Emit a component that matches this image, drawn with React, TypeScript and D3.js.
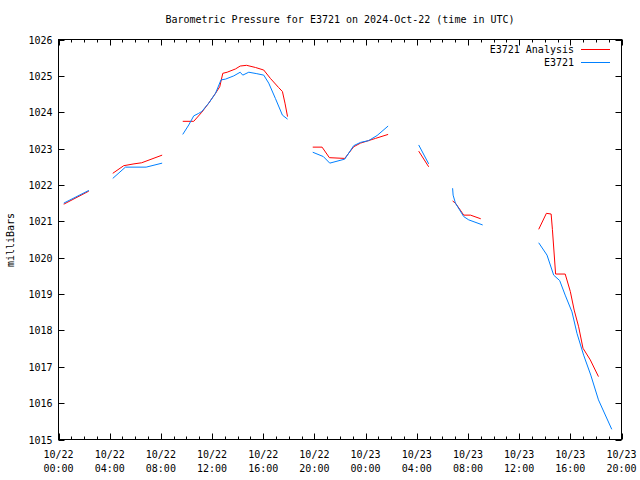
import React from "react";
import * as d3 from "d3";

// Hours since 2024-10-22 00:00 UTC; NaN marks a gap
const analysisHours = [0.41, 2.37, NaN,
  4.24, 5.1, 5.9, 6.5, 8.1, NaN,
  9.71, 10.57, 11.2, 11.74, 12.27, 12.6, 12.84, 13.18, 13.83, 14.2, 14.7, 15.4, 16.04, 16.56, 17.2, 17.5, 17.7, 17.9, NaN,
  19.87, 20.6, 21.17, 22.37, 23.07, 23.6, 24.24, 24.77, 25.76, NaN,
  28.15, 28.93, NaN,
  30.8, 31.02, 31.4, 31.67, 32.2, 33.0, NaN,
  37.53, 38.13, 38.5, 38.6, 38.85, 39.6, 40.0, 40.3, 40.65, 40.99, 41.56, 42.2];
const analysisValues = [1021.47, 1021.83, NaN,
  1022.32, 1022.53, 1022.58, 1022.61, 1022.82, NaN,
  1023.75, 1023.75, 1024.0, 1024.25, 1024.52, 1024.7, 1025.07, 1025.1, 1025.19, 1025.27, 1025.29, 1025.23, 1025.16, 1024.93, 1024.68, 1024.57, 1024.25, 1023.88, NaN,
  1023.04, 1023.04, 1022.75, 1022.73, 1023.05, 1023.15, 1023.22, 1023.28, 1023.39, NaN,
  1022.93, 1022.5, NaN,
  1021.56, 1021.5, 1021.31, 1021.17, 1021.17, 1021.07, NaN,
  1020.78, 1021.22, 1021.2, 1020.78, 1019.55, 1019.55, 1019.07, 1018.56, 1018.1, 1017.51, 1017.19, 1016.73];

const obsHours = [0.41, 2.37, NaN,
  4.24, 5.23, 6.85, 8.1, NaN,
  9.71, 10.18, 10.57, 10.96, 11.2, 11.74, 12.27, 12.7, 13.05, 13.7, 14.2, 14.4, 14.87, 15.5, 16.04, 16.43, 16.95, 17.5, 17.9, NaN,
  19.87, 20.7, 21.2, 22.37, 23.07, 23.6, 24.24, 24.9, 25.76, NaN,
  28.15, 28.93, NaN,
  30.8, 30.84, 31.02, 31.67, 32.06, 33.15, NaN,
  37.53, 38.18, 38.7, 39.17, 39.6, 40.13, 40.52, 41.04, 41.6, 42.2, 43.24];
const obsValues = [1021.5, 1021.85, NaN,
  1022.18, 1022.49, 1022.49, 1022.6, NaN,
  1023.39, 1023.65, 1023.9, 1023.97, 1024.02, 1024.25, 1024.52, 1024.89, 1024.91, 1025.0, 1025.1, 1025.02, 1025.1, 1025.06, 1025.02, 1024.8, 1024.38, 1023.92, 1023.81, NaN,
  1022.9, 1022.78, 1022.6, 1022.71, 1023.08, 1023.17, 1023.22, 1023.36, 1023.62, NaN,
  1023.1, 1022.58, NaN,
  1021.91, 1021.72, 1021.5, 1021.13, 1021.04, 1020.9, NaN,
  1020.41, 1020.07, 1019.52, 1019.37, 1018.97, 1018.51, 1017.92, 1017.32, 1016.77, 1016.09, 1015.28];

const yTicks = [1015, 1016, 1017, 1018, 1019, 1020, 1021, 1022, 1023, 1024, 1025, 1026];
const xMajorHours = [0, 4, 8, 12, 16, 20, 24, 28, 32, 36, 40, 44];
const xTickDates = ["10/22", "10/22", "10/22", "10/22", "10/22", "10/22", "10/23", "10/23", "10/23", "10/23", "10/23", "10/23"];
const xTickTimes = ["00:00", "04:00", "08:00", "12:00", "16:00", "20:00", "00:00", "04:00", "08:00", "12:00", "16:00", "20:00"];
const seriesNames = ["E3721 Analysis", "E3721"];
const seriesColors = ["#ff0000", "#0080ff"];

const W = 640, H = 480;
const L = 58.5, R = 621.5, T = 39.5, B = 439.5;
const FONT = "'DejaVu Sans Mono', monospace";

export default function App() {
  const x = d3.scaleLinear().domain([0, 44]).range([L, R]);
  const y = d3.scaleLinear().domain([1015, 1026]).range([B, T]);
  const mkLine = (hs: number[], vs: number[]) => {
    const pts = hs.map((h, i) => [h, vs[i]] as [number, number]);
    return d3.line<[number, number]>()
      .defined((d) => !isNaN(d[0]) && !isNaN(d[1]))
      .x((d) => x(d[0]))
      .y((d) => y(d[1]))(pts) || "";
  };
  const minor = d3.range(0, 45, 1);
  return (
    <svg width={W} height={H} style={{ display: "block", position: "absolute", left: 0, top: 0, background: "#fff" }}>
      <rect x={0} y={0} width={W} height={H} fill="#fff" />
      <text x={340} y={23} textAnchor="middle" fontFamily={FONT} fontSize={10}>
        Barometric Pressure for E3721 on 2024-Oct-22 (time in UTC)
      </text>
      <text transform={`translate(14,240) rotate(-90)`} textAnchor="middle" fontFamily={FONT} fontSize={10}>milliBars</text>
      {yTicks.map((v) => (
        <g key={v}>
          <line x1={L} x2={L + 6} y1={Math.round(y(v)) + 0.5} y2={Math.round(y(v)) + 0.5} stroke="#000" />
          <line x1={R - 6} x2={R} y1={Math.round(y(v)) + 0.5} y2={Math.round(y(v)) + 0.5} stroke="#000" />
          <text x={L - 6} y={y(v) + 4} textAnchor="end" fontFamily={FONT} fontSize={10}>{v}</text>
        </g>
      ))}
      {minor.map((h) => {
        const major = h % 4 === 0;
        const xx = Math.round(x(h)) + 0.5;
        const len = major ? 6 : 3;
        return (
          <g key={h}>
            <line x1={xx} x2={xx} y1={B} y2={B - len} stroke="#000" />
            <line x1={xx} x2={xx} y1={T} y2={T + len} stroke="#000" />
          </g>
        );
      })}
      {xMajorHours.map((h, i) => (
        <g key={h}>
          <text x={x(h)} y={458} textAnchor="middle" fontFamily={FONT} fontSize={10}>{xTickDates[i]}</text>
          <text x={x(h)} y={472} textAnchor="middle" fontFamily={FONT} fontSize={10}>{xTickTimes[i]}</text>
        </g>
      ))}
      <path d={mkLine(analysisHours, analysisValues)} fill="none" stroke={seriesColors[0]} strokeWidth={1} />
      <path d={mkLine(obsHours, obsValues)} fill="none" stroke={seriesColors[1]} strokeWidth={1} />
      {seriesNames.map((n, i) => (
        <g key={n}>
          <text x={574} y={53 + i * 13} textAnchor="end" fontFamily={FONT} fontSize={10}>{n}</text>
          <line x1={581} x2={610} y1={49.5 + i * 13} y2={49.5 + i * 13} stroke={seriesColors[i]} />
        </g>
      ))}
      <rect x={L} y={T} width={R - L} height={B - T} fill="none" stroke="#000" />
    </svg>
  );
}
